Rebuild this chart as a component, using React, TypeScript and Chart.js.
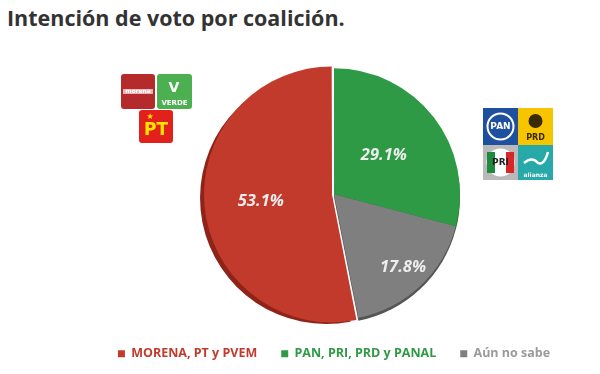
import React, { useEffect, useRef } from "react";
import { Chart, registerables } from "chart.js";

Chart.register(...registerables);

const TITLE = "Intención de voto por coalición.";
const categories = ["MORENA, PT y PVEM", "PAN, PRI, PRD y PANAL", "Aún no sabe"];
const values = [53.1, 29.1, 17.8];
const valueLabels = ["53.1%", "29.1%", "17.8%"];
const sliceColors = ["#C23A2C", "#2E9A45", "#7F7F7F"];
const shadowColors = ["#8E2318", "#1B6A2C", "#555555"];
const legendTextColors = ["#C23A2C", "#2E9A45", "#9A9A9A"];
const labelRadius = [0.52, 0.5, 0.8];
const sliceOffsets = [8, 0, 0];

function roundRect(ctx: CanvasRenderingContext2D, x: number, y: number, w: number, h: number, r: number) {
  ctx.beginPath();
  ctx.moveTo(x + r, y);
  ctx.lineTo(x + w - r, y);
  ctx.quadraticCurveTo(x + w, y, x + w, y + r);
  ctx.lineTo(x + w, y + h - r);
  ctx.quadraticCurveTo(x + w, y + h, x + w - r, y + h);
  ctx.lineTo(x + r, y + h);
  ctx.quadraticCurveTo(x, y + h, x, y + h - r);
  ctx.lineTo(x, y + r);
  ctx.quadraticCurveTo(x, y, x + r, y);
  ctx.closePath();
}

const depthPlugin = {
  id: "depth",
  beforeDatasetsDraw(chart: any) {
    const ctx = chart.ctx as CanvasRenderingContext2D;
    const meta = chart.getDatasetMeta(0);
    meta.data.forEach((arc: any, i: number) => {
      const { x, y, startAngle, endAngle, outerRadius } = arc.getProps(["x", "y", "startAngle", "endAngle", "outerRadius"]);
      const off = arc.options.offset || 0;
      const mid = (startAngle + endAngle) / 2;
      const cx = x + Math.cos(mid) * off;
      const cy = y + Math.sin(mid) * off + 3;
      ctx.save();
      ctx.fillStyle = shadowColors[i];
      ctx.beginPath();
      ctx.moveTo(cx, cy);
      ctx.arc(cx, cy, outerRadius, startAngle, endAngle);
      ctx.closePath();
      ctx.fill();
      ctx.restore();
    });
  },
};

const labelPlugin = {
  id: "sliceLabels",
  afterDatasetsDraw(chart: any) {
    const ctx = chart.ctx as CanvasRenderingContext2D;
    const meta = chart.getDatasetMeta(0);
    ctx.save();
    ctx.font = "italic bold 16.5px 'Open Sans', sans-serif";
    ctx.fillStyle = "#EDEDED";
    ctx.textAlign = "center";
    ctx.textBaseline = "middle";
    meta.data.forEach((arc: any, i: number) => {
      const { x, y, startAngle, endAngle, outerRadius } = arc.getProps(["x", "y", "startAngle", "endAngle", "outerRadius"]);
      const off = arc.options.offset || 0;
      const mid = (startAngle + endAngle) / 2;
      const r = outerRadius * labelRadius[i] + off;
      ctx.fillText(valueLabels[i], x + Math.cos(mid) * r, y + Math.sin(mid) * r);
    });
    ctx.restore();
  },
};

const logoPlugin = {
  id: "logos",
  afterDraw(chart: any) {
    const ctx = chart.ctx as CanvasRenderingContext2D;
    ctx.save();
    ctx.textAlign = "center";
    ctx.textBaseline = "middle";
    // MORENA
    ctx.fillStyle = "#B52B2B";
    roundRect(ctx, 121, 74, 34, 35, 3);
    ctx.fill();
    ctx.fillStyle = "#E8B0B0";
    ctx.fillRect(123, 89, 30, 5);
    ctx.fillStyle = "#FFFFFF";
    ctx.font = "bold 6px 'DejaVu Sans', sans-serif";
    ctx.fillText("morena", 138, 91.5);
    // VERDE
    ctx.fillStyle = "#4CAF50";
    roundRect(ctx, 157, 74, 35, 35, 3);
    ctx.fill();
    ctx.fillStyle = "#FFFFFF";
    ctx.font = "bold 14px 'DejaVu Sans', sans-serif";
    ctx.fillText("V", 174, 88);
    ctx.font = "bold 7px 'DejaVu Sans', sans-serif";
    ctx.fillText("VERDE", 174.5, 103);
    // PT
    ctx.fillStyle = "#E3211C";
    roundRect(ctx, 139, 110, 34, 33, 3);
    ctx.fill();
    ctx.fillStyle = "#FFE600";
    ctx.font = "bold 17px 'DejaVu Sans', sans-serif";
    ctx.fillText("PT", 156, 131);
    ctx.font = "bold 8px 'DejaVu Sans', sans-serif";
    ctx.fillText("★", 150, 117);
    // PAN
    ctx.fillStyle = "#1F4F9F";
    ctx.fillRect(483, 108, 35, 37);
    ctx.strokeStyle = "#FFFFFF";
    ctx.lineWidth = 2;
    ctx.beginPath();
    ctx.arc(500.5, 126.5, 13, 0, Math.PI * 2);
    ctx.stroke();
    ctx.fillStyle = "#FFFFFF";
    ctx.font = "bold 9px 'DejaVu Sans', sans-serif";
    ctx.fillText("PAN", 500.5, 127);
    // PRD
    ctx.fillStyle = "#F6C500";
    ctx.fillRect(518, 108, 35, 37);
    ctx.fillStyle = "#3A2A00";
    ctx.beginPath();
    ctx.arc(535.5, 121, 7, 0, Math.PI * 2);
    ctx.fill();
    ctx.font = "bold 8px 'DejaVu Sans', sans-serif";
    ctx.fillText("PRD", 535.5, 138);
    // PRI
    ctx.fillStyle = "#B9B9B9";
    ctx.fillRect(483, 145, 35, 35);
    ctx.fillStyle = "#FFFFFF";
    ctx.beginPath();
    ctx.arc(500.5, 162.5, 14, 0, Math.PI * 2);
    ctx.fill();
    ctx.fillStyle = "#1E8A3C";
    ctx.fillRect(487, 152, 8, 21);
    ctx.fillStyle = "#D62828";
    ctx.fillRect(506, 152, 8, 21);
    ctx.fillStyle = "#222222";
    ctx.font = "bold 9px 'DejaVu Sans', sans-serif";
    ctx.fillText("PRI", 500.5, 163);
    // NUEVA ALIANZA
    ctx.fillStyle = "#28A9A9";
    ctx.fillRect(518, 145, 35, 35);
    ctx.strokeStyle = "#FFFFFF";
    ctx.lineWidth = 2.5;
    ctx.beginPath();
    ctx.moveTo(524, 163);
    ctx.quadraticCurveTo(532, 156, 538, 163);
    ctx.quadraticCurveTo(544, 166, 548, 152);
    ctx.stroke();
    ctx.fillStyle = "#FFFFFF";
    ctx.font = "bold 6px 'DejaVu Sans', sans-serif";
    ctx.fillText("alianza", 535.5, 175);
    ctx.restore();
  },
};

export default function App() {
  const canvasRef = useRef<HTMLCanvasElement | null>(null);

  useEffect(() => {
    if (!canvasRef.current) return;
    const chart = new Chart(canvasRef.current, {
      type: "pie",
      data: {
        labels: categories,
        datasets: [
          {
            data: values,
            backgroundColor: sliceColors,
            borderWidth: 0,
            offset: sliceOffsets,
            radius: 126,
          } as any,
        ],
      },
      options: {
        responsive: false,
        animation: false,
        rotation: 168.84,
        layout: { padding: { left: 74, right: 6, top: 65, bottom: 4 } },
        plugins: {
          title: { display: false },
          tooltip: { enabled: false },
          legend: {
            display: true,
            position: "bottom",
            labels: {
              boxWidth: 7,
              boxHeight: 7,
              padding: 24,
              font: { family: "'Open Sans', sans-serif", size: 12.5, weight: "bold" },
              generateLabels: () =>
                categories.map((c, i) => ({
                  text: c,
                  fillStyle: sliceColors[i],
                  strokeStyle: sliceColors[i],
                  lineWidth: 0,
                  fontColor: legendTextColors[i],
                  hidden: false,
                  index: i,
                })),
            },
          },
        },
      },
      plugins: [depthPlugin, labelPlugin, logoPlugin],
    });
    return () => chart.destroy();
  }, []);

  return (
    <div style={{ position: "fixed", left: 0, top: 0, width: 600, height: 374, background: "#FFFFFF" }}>
      <div
        style={{
          position: "absolute",
          left: 7,
          top: 3,
          fontFamily: "'Open Sans', sans-serif",
          fontWeight: 700,
          fontSize: 21.5,
          lineHeight: "30px",
          color: "#333333",
          whiteSpace: "nowrap",
        }}
      >
        {TITLE}
      </div>
      <canvas ref={canvasRef} width={600} height={374} style={{ position: "absolute", left: 0, top: 0 }} />
    </div>
  );
}
